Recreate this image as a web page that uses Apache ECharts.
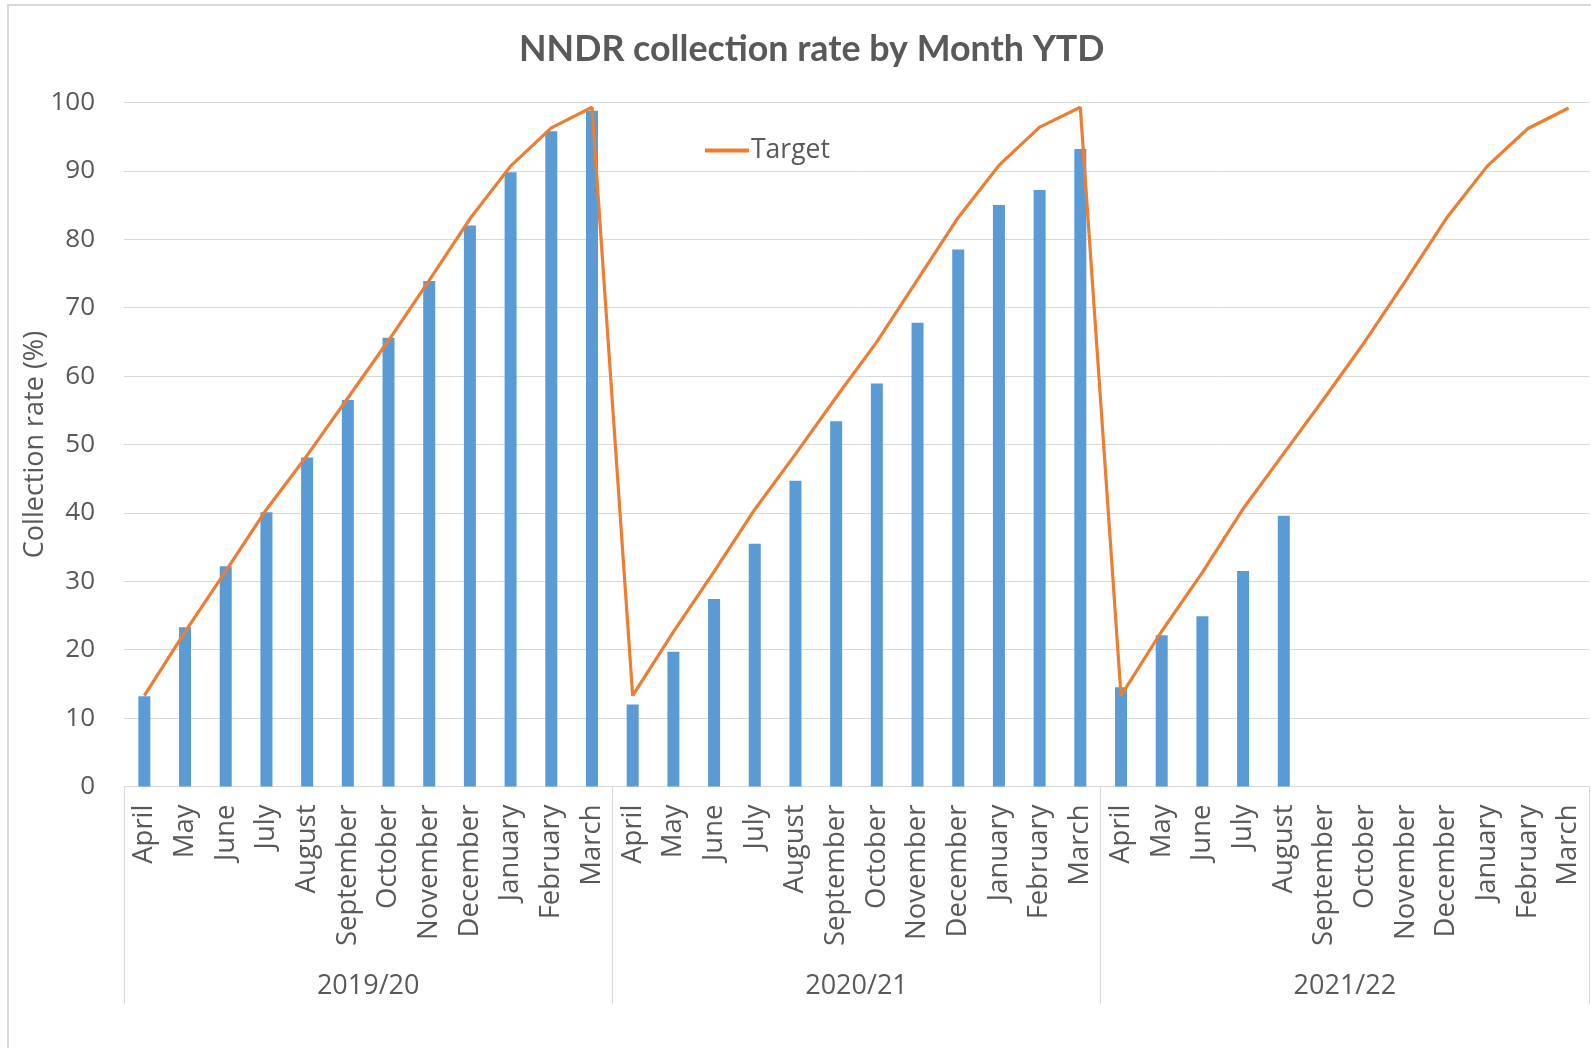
<!DOCTYPE html>
<html>
<head>
<meta charset="utf-8">
<script src="https://cdn.jsdelivr.net/npm/echarts@6/dist/echarts.min.js"></script>
<style>
    html, body { margin: 0; padding: 0; background: #fff; }
    #chart { width: 1591px; height: 1048px; }
</style>
</head>
<body>
<div id="chart"></div>
<script>
// 月份 (每个财年 4月 - 3月)
const months = ['April', 'May', 'June', 'July', 'August', 'September', 'October',
    'November', 'December', 'January', 'February', 'March']
const years = ['2019/20', '2020/21', '2021/22']

// 横轴类目: 3 个财年 x 12 个月
const categories = years.flatMap(() => months)

// 实际收缴率 (%)，2021/22 只有到 8月
const collected = [
    13.2, 23.3, 32.2, 40.1, 48.1, 56.5, 65.6, 73.9, 82.0, 89.8, 95.8, 98.8,
    12.0, 19.7, 27.4, 35.5, 44.7, 53.4, 58.9, 67.8, 78.5, 85.0, 87.2, 93.2,
    14.5, 22.1, 24.9, 31.5, 39.6, null, null, null, null, null, null, null
]

// 目标 (%)
const target = [
    13.3, 22.6, 31.5, 40.5, 48.4, 56.8, 65.2, 74.0, 83.0, 90.7, 96.3, 99.3,
    13.3, 22.6, 31.4, 40.5, 48.6, 56.9, 65.0, 74.1, 83.2, 90.8, 96.4, 99.3,
    13.3, 22.7, 31.3, 40.6, 48.7, 56.8, 65.1, 74.0, 83.1, 90.7, 96.2, 99.2
]

// 纵轴刻度
const yMin = 0
const yMax = 100
const yStep = 10

const textColor = '#595959'
const gridColor = '#d9d9d9'
const font = '"Open Sans", "Noto Sans", sans-serif'

const chart = echarts.init(document.getElementById('chart'))

const option = {
    backgroundColor: '#fff',
    animation: false,
    title: {
        text: 'NNDR collection rate by Month YTD',
        left: 519,
        top: 31,
        padding: 0,
        textStyle: {
            fontFamily: 'Lato, "Open Sans", sans-serif',
            fontWeight: 'bold',
            fontSize: 35.8,
            color: textColor
        }
    },
    legend: {
        data: [{ name: 'Target', icon: 'rect' }],
        left: 705,
        top: 137,
        padding: 0,
        itemWidth: 44,
        itemHeight: 4,
        itemGap: 4,
        textStyle: { fontFamily: font, fontSize: 26.5, color: textColor, padding: [0, 0, 0, -3] }
    },
    // 外框只露出上、左两边
    graphic: [{
        type: 'rect',
        shape: { x: 8, y: 5, width: 1700, height: 1200 },
        style: { fill: 'none', stroke: gridColor, lineWidth: 2 },
        silent: true
    }],
    grid: {
        left: 124,
        right: 2,
        top: 102.5,
        bottom: 261.5
    },
    xAxis: [
        {
            type: 'category',
            data: categories,
            position: 'bottom',
            axisLine: { lineStyle: { color: gridColor, width: 1 } },
            axisTick: { show: false },
            axisLabel: {
                interval: 0,
                rotate: 90,
                margin: 18,
                fontFamily: font,
                fontSize: 27.5,
                color: textColor
            }
        },
        {
            // 第二层: 财年
            type: 'category',
            data: years,
            position: 'bottom',
            axisLine: { show: false },
            axisTick: { show: true, length: 217, lineStyle: { color: gridColor, width: 1 } },
            axisLabel: {
                margin: 186,
                fontFamily: font,
                fontSize: 27,
                color: textColor
            }
        }
    ],
    yAxis: {
        type: 'value',
        min: yMin,
        max: yMax,
        interval: yStep,
        name: 'Collection rate (%)',
        nameLocation: 'middle',
        nameGap: 75,
        nameMoveOverlap: false,
        nameTextStyle: { fontFamily: font, fontSize: 27, color: textColor },
        axisLine: { show: false },
        axisTick: { show: false },
        axisLabel: { margin: 29, fontFamily: font, fontSize: 26, color: textColor },
        splitLine: { lineStyle: { color: gridColor, width: 1 } }
    },
    series: [
        {
            name: 'Collected',
            type: 'bar',
            xAxisIndex: 0,
            data: collected,
            barWidth: 12,
            itemStyle: { color: '#5b9bd5' }
        },
        {
            name: 'Target',
            type: 'line',
            xAxisIndex: 0,
            data: target,
            showSymbol: false,
            symbol: 'none',
            lineStyle: { color: '#ed7d31', width: 3.2 },
            itemStyle: { color: '#ed7d31' }
        }
    ]
}

chart.setOption(option)
</script>
</body>
</html>
